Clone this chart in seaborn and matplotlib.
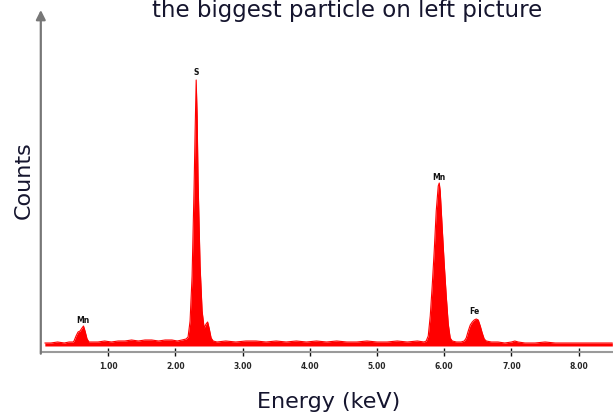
import numpy as np
import pandas as pd
import matplotlib
matplotlib.use("Agg")
import matplotlib.pyplot as plt
import seaborn as sns

# EDS spectrum (energy in keV, counts in arbitrary units)
energy = [0.06, 0.15, 0.25, 0.35, 0.42, 0.48,
          0.494, 0.524, 0.554, 0.583, 0.613, 0.635, 0.658, 0.688, 0.717,
          0.76, 0.85, 0.95, 1.05, 1.15, 1.25, 1.35, 1.45, 1.55, 1.65, 1.75,
          1.85, 1.95, 2.03, 2.10, 2.161,
          2.190, 2.220, 2.250, 2.280, 2.295, 2.311, 2.325, 2.339, 2.369,
          2.399, 2.429, 2.458, 2.481, 2.503, 2.533, 2.563,
          2.62, 2.75, 2.90, 3.05, 3.20, 3.35, 3.50, 3.65, 3.80, 3.95, 4.10,
          4.25, 4.40, 4.55, 4.70, 4.85, 5.00, 5.15, 5.30, 5.45, 5.60, 5.70,
          5.732, 5.762, 5.792, 5.821, 5.851, 5.881, 5.911, 5.926, 5.940,
          5.970, 6.000, 6.030, 6.060, 6.089, 6.119,
          6.18, 6.25, 6.298, 6.327, 6.357, 6.387, 6.417, 6.446, 6.476, 6.506,
          6.536, 6.565, 6.595, 6.625,
          6.70, 6.80, 6.90, 7.00, 7.05, 7.10, 7.20, 7.35, 7.50, 7.65, 7.80,
          7.95, 8.10, 8.25, 8.40, 8.50]
counts = [3, 3, 4, 3, 4, 4,
          5, 10, 14, 15, 18, 20, 15, 7, 4,
          4, 4, 5, 4, 5, 5, 6, 5, 6, 6, 5,
          6, 6, 5, 6, 7,
          9, 25, 70, 160, 215, 266, 230, 165, 80,
          35, 18, 22, 24, 18, 8, 5,
          4, 5, 4, 5, 5, 4, 5, 4, 5, 4, 5,
          4, 5, 4, 4, 5, 4, 4, 5, 4, 5, 4,
          5, 10, 30, 60, 95, 135, 160, 163, 155,
          118, 82, 50, 22, 8, 5,
          4, 4, 5, 8, 15, 21, 24, 26, 27, 26,
          20, 13, 7, 5,
          4, 4, 3, 4, 5, 4, 3, 3, 4, 3, 3,
          3, 3, 3, 3, 3]

peak_names = ["Mn", "S", "Mn", "Fe"]
peak_energy = [0.63, 2.31, 5.925, 6.45]
peak_counts = [26, 274, 169, 35]

tick_values = [1, 2, 3, 4, 5, 6, 7, 8]
tick_labels = ["1.00", "2.00", "3.00", "4.00", "5.00", "6.00", "7.00", "8.00"]

spec = pd.DataFrame({"energy": energy, "counts": counts})

sns.set_style("white")
plt.rcParams["font.family"] = ["DejaVu Sans"]

fig = plt.figure(figsize=(6.13, 4.15), dpi=100)
ax = fig.add_axes([40.8 / 613, 63 / 415, 572.2 / 613, 342 / 415])

red = "#ff0000"
ax.fill_between(spec["energy"], spec["counts"], 0, color=red, lw=0)
sns.lineplot(data=spec, x="energy", y="counts", ax=ax, color=red, lw=0.8)

for name, e, c in zip(peak_names, peak_energy, peak_counts):
    ax.text(e, c, name, ha="center", va="center", fontsize=5.5,
            fontweight="bold", color="#111111")

ax.set_xlim(0, 8.51)
ax.set_ylim(-6, 336)
ax.set_xticks(tick_values)
ax.set_xticklabels(tick_labels, fontsize=5.5, fontweight="bold")
ax.set_yticks([])
ax.set_xlabel("")
ax.set_ylabel("")
ax.tick_params(axis="x", direction="inout", length=6, width=1,
               color="#111111", pad=4, bottom=True)

for s in ["top", "right", "left"]:
    ax.spines[s].set_visible(False)
ax.spines["bottom"].set_color("#9a9a9a")
ax.spines["bottom"].set_linewidth(1.5)

# vertical axis drawn as an arrow
ax.annotate("", xy=(0, 1.0), xytext=(0, -0.005), xycoords="axes fraction",
            textcoords="axes fraction",
            arrowprops=dict(arrowstyle="-|>", color="#777777", lw=1.6,
                            mutation_scale=14, shrinkA=0, shrinkB=0),
            annotation_clip=False)

text_color = "#15152e"
fig.text(347 / 613, 1 - 17 / 415, "the biggest particle on left picture",
         ha="center", va="baseline", fontsize=16.5, color=text_color)
fig.text(329 / 613, 1 - 408 / 415, "Energy (keV)", ha="center",
         va="baseline", fontsize=16, color=text_color)
fig.text(24 / 613, 1 - 180 / 415, "Counts", ha="center", va="center",
         rotation=90, fontsize=16, color=text_color)

fig.savefig("out.png", dpi=100)
